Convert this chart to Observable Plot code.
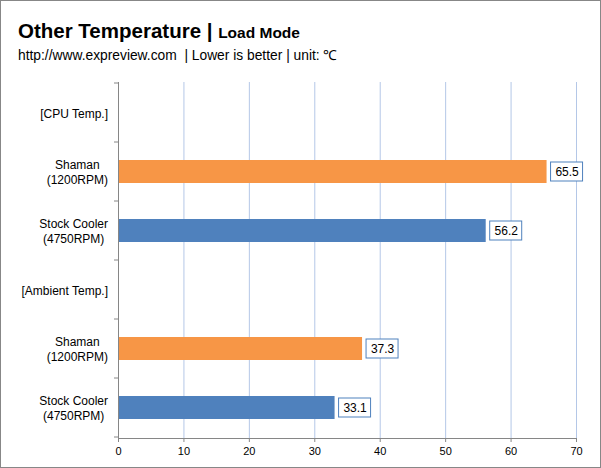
<!DOCTYPE html>
<html>
<head>
<meta charset="utf-8">
<script src="https://cdn.jsdelivr.net/npm/d3@7"></script>
<script src="https://cdn.jsdelivr.net/npm/@observablehq/plot@0.6"></script>
<style>
  html, body { margin: 0; padding: 0; background: #fff; }
  #wrap { position: relative; width: 601px; height: 468px; font-family: "Liberation Sans", Arial, sans-serif; }
  #frame { position: absolute; left: 0; top: 0; width: 601px; height: 468px; box-sizing: border-box; border: 1px solid #878787; pointer-events: none; }
  #title { position: absolute; left: 18px; top: 19px; font-weight: bold; font-size: 20.5px; color: #000; white-space: nowrap; }
  #title .sub { font-size: 15.5px; }
  #subtitle { position: absolute; left: 18px; top: 45px; font-size: 13.8px; color: #000; white-space: nowrap; }
  #chart { position: absolute; left: 0; top: 0; }
</style>
</head>
<body>
<div id="wrap">
  <div id="chart"></div>
  <div id="title">Other Temperature | <span class="sub">Load Mode</span></div>
  <div id="subtitle">http://www.expreview.com &nbsp;| Lower is better | unit: ℃</div>
  <div id="frame"></div>
</div>
<script>
const categories = ["[CPU Temp.]", "Shaman\n(1200RPM)", "Stock Cooler\n(4750RPM)", "[Ambient Temp.]", "Shaman\n(1200RPM) ", "Stock Cooler\n(4750RPM) "];
const values = [null, 65.5, 56.2, null, 37.3, 33.1];
const cooler = [null, "Shaman", "Stock", null, "Shaman", "Stock"];
const xTicks = [0, 10, 20, 30, 40, 50, 60, 70];
const colors = {Shaman: "#F79646", Stock: "#4F81BD"};

const data = categories.map((c, i) => ({cat: c, value: values[i], cooler: cooler[i]}));
const bars = data.filter(d => d.value != null);

const pInner = 0.61;
const labelRight = 108;

function rowTicks(index, scales, vals, dims) {
  const y = scales.y;
  const step = y.step();
  const g = d3.create("svg:g");
  const x0 = dims.marginLeft;
  const ys = categories.map(c => y(c) - step * pInner / 2);
  ys.push(ys[ys.length - 1] + step);
  for (const yy of ys) {
    g.append("line").attr("x1", x0 - 4).attr("x2", x0).attr("y1", yy).attr("y2", yy)
      .attr("stroke", "#868686").attr("stroke-width", 1);
  }
  return g.node();
}

const plot = Plot.plot({
  width: 601,
  height: 468,
  marginTop: 82,
  marginBottom: 30,
  marginLeft: 118,
  marginRight: 25,
  style: {fontFamily: "'Liberation Sans', Arial, sans-serif", background: "transparent", overflow: "visible"},
  x: {domain: [0, 70], ticks: xTicks},
  y: {domain: categories, paddingInner: pInner, paddingOuter: pInner / 2},
  marks: [
    Plot.ruleX(xTicks.slice(1), {stroke: "#B4C7E7", strokeWidth: 1}),
    Plot.barX(bars, {x: "value", y: "cat", fill: d => colors[d.cooler]}),
    Plot.rect(bars, {x1: "value", x2: "value", y: "cat", insetLeft: 4, insetRight: -36, insetTop: 2, insetBottom: 2, fill: "white", stroke: "#4F81BD", strokeWidth: 1}),
    Plot.text(bars, {x: "value", y: "cat", text: d => d.value.toFixed(1), dx: 20, textAnchor: "middle", fontSize: 12, fill: "#000"}),
    Plot.axisY({tickSize: 0, tickPadding: 44, textAnchor: "middle", fontSize: 12, lineHeight: 1.17, fill: "#000", label: null, tickFormat: d => d.trim()}),
    Plot.ruleX([0], {stroke: "#868686"}),
    Plot.axisX({ticks: xTicks, tickSize: 4, tickPadding: 5, fontSize: 11, label: null, stroke: "#868686", fill: "#000"}),
    Plot.frame({anchor: "bottom", stroke: "#868686"}),
    rowTicks
  ]
});
document.getElementById("chart").appendChild(plot);

// Excel-style: label blocks right-aligned, lines centred within each block
const svgLeft = plot.getBoundingClientRect().left;
d3.select(plot).selectAll("g[aria-label='y-axis tick label'] text").each(function() {
  const r = this.getBoundingClientRect();
  const cur = r.left - svgLeft + r.width / 2;
  const target = labelRight - r.width / 2;
  const t = this.getAttribute("transform") || "";
  this.setAttribute("transform", `translate(${target - cur},0) ` + t);
});
</script>
</body>
</html>
